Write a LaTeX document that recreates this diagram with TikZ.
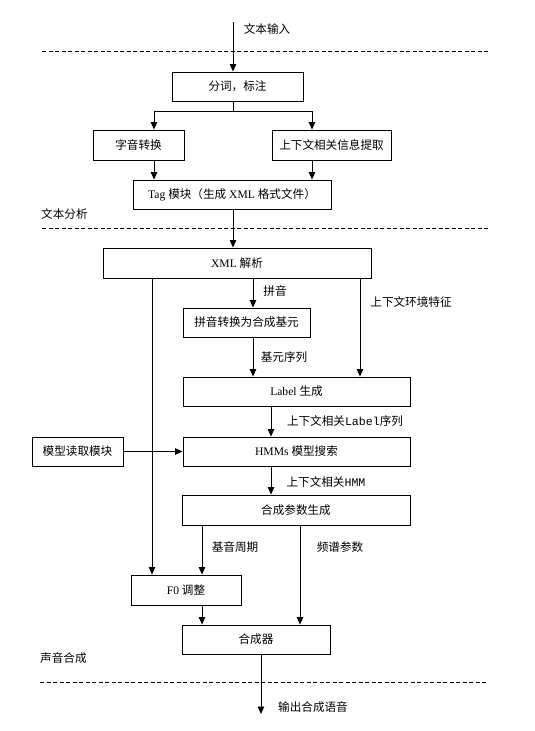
\documentclass[tikz,border=0pt]{standalone}
\usepackage{fontspec}
\setmainfont{Liberation Serif}
\newfontfamily\cjk{Noto Sans CJK SC}
\newfontfamily\monof{Liberation Mono}
\newcommand\zh[1]{{\cjk #1}}
\usetikzlibrary{arrows.meta}
\begin{document}
\begin{tikzpicture}[x=1pt,y=-1pt,
  box/.style={draw,line width=0.9pt,rectangle,inner sep=0pt,font=\fontsize{11.6pt}{13pt}\selectfont},
  lbl/.style={inner sep=0pt,font=\fontsize{11.6pt}{13pt}\selectfont},
  arr/.style={line width=0.9pt,-{Triangle[length=7.5pt,width=6.5pt]}},
  ln/.style={line width=0.9pt},
  dsh/.style={line width=0.8pt,dash pattern=on 4pt off 2.5pt}]
\useasboundingbox (0,0) rectangle (535,731);
% columns
\coordinate (cA) at (233,0);
\coordinate (cZ) at (154,0);
\coordinate (cS) at (312,0);
\coordinate (cP) at (253,0);
\coordinate (cR) at (360,0);
\coordinate (cL) at (152,0);
\coordinate (cH) at (271,0);
\coordinate (cB) at (202,0);
\coordinate (cF) at (300,0);
\coordinate (cO) at (261,0);
% boxes
\node[box,minimum width=131pt,minimum height=29pt] (fenci) at (237.5,86.5) {\zh{分词，标注}};
\node[box,minimum width=91pt,minimum height=30pt] (zy) at (138.5,145) {\zh{字音转换}};
\node[box,minimum width=119pt,minimum height=30pt] (sx) at (331.5,145) {\zh{上下文相关信息提取}};
\node[box,minimum width=198pt,minimum height=29pt] (tag) at (232,194.5) {Tag \zh{模块（生成} XML \zh{格式文件）}};
\node[box,minimum width=268pt,minimum height=30pt] (xml) at (237,263) {XML \zh{解析}};
\node[box,minimum width=127pt,minimum height=29pt] (py) at (246.5,322.5) {\zh{拼音转换为合成基元}};
\node[box,minimum width=227pt,minimum height=29pt] (lab) at (296.5,391.5) {Label \zh{生成}};
\node[box,minimum width=91pt,minimum height=29pt] (mx) at (77.5,451.5) {\zh{模型读取模块}};
\node[box,minimum width=227pt,minimum height=29pt] (hmm) at (296.5,451.5) {HMMs \zh{模型搜索}};
\node[box,minimum width=228pt,minimum height=30pt] (cs) at (296,510) {\zh{合成参数生成}};
\node[box,minimum width=110pt,minimum height=30pt] (f0) at (186,590) {F0 \zh{调整}};
\node[box,minimum width=148pt,minimum height=29pt] (syn) at (256,639.5) {\zh{合成器}};
% labels
\node[lbl] (tin) at (267,29) {\zh{文本输入}};
\node[lbl,anchor=west] (twa) at (41,214) {\zh{文本分析}};
\node[lbl] (tpy) at (275,291) {\zh{拼音}};
\node[lbl] (thj) at (411,302) {\zh{上下文环境特征}};
\node[lbl] (tjy) at (284,357) {\zh{基元序列}};
\node[lbl] (tls) at (345,421) {\zh{上下文相关}{\monof Label}\zh{序列}};
\node[lbl] (thm) at (326,482) {\zh{上下文相关}{\monof HMM}};
\node[lbl] (tjz) at (235,547) {\zh{基音周期}};
\node[lbl] (tpp) at (340,547) {\zh{频谱参数}};
\node[lbl,anchor=west] (tsy) at (40,658) {\zh{声音合成}};
\node[lbl] (tout) at (313,707) {\zh{输出合成语音}};
% dashed separators
\coordinate (d1a) at (42,51); \coordinate (d1b) at (488,51);
\coordinate (d2a) at (42,228); \coordinate (d2b) at (488,228);
\coordinate (d3a) at (40,682); \coordinate (d3b) at (488,682);
\draw[dsh] (d1a) -- (d1b);
\draw[dsh] (d2a) -- (d2b);
\draw[dsh] (d3a) -- (d3b);
% connectors
\coordinate (in) at (233,22);
\coordinate (sp) at (233,111);
\coordinate (out) at (261,714);
\draw[arr] (in) -- (in |- fenci.north);
\draw[ln] (fenci.south -| cA) -- (sp);
\draw[arr] (sp) -| (zy.north -| cZ);
\draw[arr] (sp) -| (sx.north -| cS);
\draw[arr] (zy.south -| cZ) -- (tag.north -| cZ);
\draw[arr] (sx.south -| cS) -- (tag.north -| cS);
\draw[arr] (tag.south -| cA) -- (xml.north -| cA);
\draw[arr] (xml.south -| cP) -- (py.north -| cP);
\draw[arr] (py.south -| cP) -- (lab.north -| cP);
\draw[arr] (xml.south -| cR) -- (lab.north -| cR);
\draw[arr] (xml.south -| cL) -- (f0.north -| cL);
\draw[arr] (lab.south -| cH) -- (hmm.north -| cH);
\draw[arr] (mx.east) -- (hmm.west);
\draw[arr] (hmm.south -| cH) -- (cs.north -| cH);
\draw[arr] (cs.south -| cB) -- (f0.north -| cB);
\draw[arr] (cs.south -| cF) -- (syn.north -| cF);
\draw[arr] (f0.south -| cB) -- (syn.north -| cB);
\draw[arr] (syn.south -| cO) -- (out);
\end{tikzpicture}
\end{document}
